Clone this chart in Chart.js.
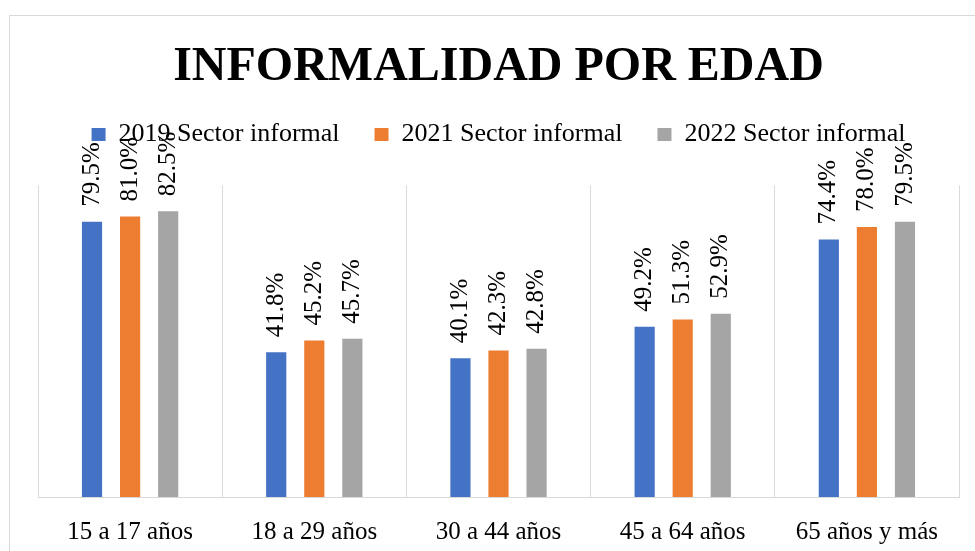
<!DOCTYPE html>
<html>
<head>
<meta charset="utf-8">
<script src="https://cdn.jsdelivr.net/npm/chart.js@4"></script>
<style>
  html, body { margin: 0; padding: 0; background: #fff; overflow: hidden; width: 975px; height: 551px; }
  .frame {
    position: absolute; left: 9px; top: 15px; width: 1000px; height: 600px;
    border: 1px solid #d9d9d9;
  }
  #chart { position: absolute; left: 0; top: 0; }
</style>
</head>
<body>
<div class="frame"></div>
<canvas id="chart" width="975" height="567"></canvas>
<script>
// Informalidad por edad - chart data
const ageGroups = ['15 a 17 años', '18 a 29 años', '30 a 44 años', '45 a 64 años', '65 años y más'];
const informal2019 = [79.5, 41.8, 40.1, 49.2, 74.4];
const informal2021 = [81.0, 45.2, 42.3, 51.3, 78.0];
const informal2022 = [82.5, 45.7, 42.8, 52.9, 79.5];

const FONT = '"Liberation Serif", "Times New Roman", serif';

// Rotated value labels above each bar
const barLabels = {
  id: 'barLabels',
  afterDatasetsDraw(chart) {
    const ctx = chart.ctx;
    ctx.save();
    ctx.font = '25px ' + FONT;
    ctx.fillStyle = '#000';
    ctx.textAlign = 'left';
    ctx.textBaseline = 'middle';
    chart.data.datasets.forEach((ds, i) => {
      const meta = chart.getDatasetMeta(i);
      meta.data.forEach((bar, j) => {
        ctx.save();
        ctx.translate(bar.x, bar.y - 15);
        ctx.rotate(-Math.PI / 2);
        ctx.fillText(ds.data[j].toFixed(1) + '%', 0, 0);
        ctx.restore();
      });
    });
    ctx.restore();
  }
};

// Extra room below the legend so the plot starts lower
const legendSpacer = {
  id: 'legendSpacer',
  beforeInit(chart) {
    const origFit = chart.legend.fit;
    chart.legend.fit = function () {
      origFit.bind(chart.legend)();
      this.height += 28;
    };
  }
};

new Chart(document.getElementById('chart'), {
  type: 'bar',
  data: {
    labels: ageGroups,
    datasets: [
      { label: '2019 Sector informal', data: informal2019, backgroundColor: '#4472C4' },
      { label: '2021 Sector informal', data: informal2021, backgroundColor: '#ED7D31' },
      { label: '2022 Sector informal', data: informal2022, backgroundColor: '#A5A5A5' }
    ]
  },
  options: {
    responsive: false,
    devicePixelRatio: 1,
    animation: false,
    categoryPercentage: 0.62,
    barPercentage: 0.53,
    layout: { padding: { left: 38, right: 16, top: 0, bottom: 0 } },
    scales: {
      x: {
        grid: { display: true, color: '#d9d9d9', drawTicks: false, offset: true },
        border: { display: true, color: '#d9d9d9' },
        ticks: { color: '#000', font: { family: FONT, size: 25 }, padding: 20, maxRotation: 0 }
      },
      y: { display: false, min: 0, max: 90 }
    },
    plugins: {
      title: {
        display: true,
        text: 'INFORMALIDAD POR EDAD',
        color: '#000',
        font: { family: FONT, size: 48, weight: 'bold', lineHeight: 0.8 },
        padding: { top: 48, bottom: 0 }
      },
      legend: {
        display: true,
        position: 'top',
        labels: {
          color: '#000',
          font: { family: FONT, size: 26 },
          boxWidth: 14,
          boxHeight: 13,
          padding: 35
        }
      },
      tooltip: { enabled: false }
    }
  },
  plugins: [barLabels, legendSpacer]
});
</script>
</body>
</html>
